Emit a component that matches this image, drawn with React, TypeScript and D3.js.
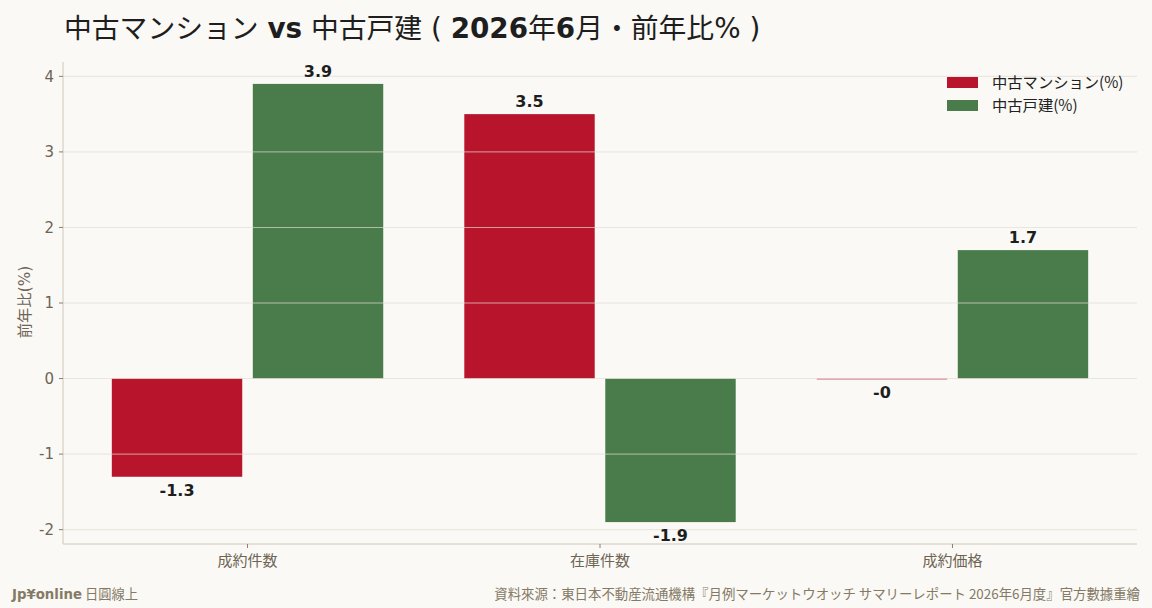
import * as d3 from "d3";

const categories = ["成約件数", "在庫件数", "成約価格"];
const seriesNames = ["中古マンション(%)", "中古戸建(%)"];
const mansionValues = [-1.3, 3.5, -0.01];
const houseValues = [3.9, -1.9, 1.7];
const yTicks = [-2, -1, 0, 1, 2, 3, 4];

const colors = ["#b8142c", "#4a7b4b"];
const W = 1152;
const H = 608;
const margin = { top: 62, right: 15, bottom: 64, left: 63 };
const FONT = "'DejaVu Sans', 'Noto Sans CJK JP', sans-serif";
const CJK = "'Noto Sans CJK JP', 'DejaVu Sans', sans-serif";

function fmt(v: number) {
  const r = Math.round(v * 10) / 10;
  if (Object.is(r, -0)) return "-0";
  return String(r);
}

export default function App() {
  const innerW = W - margin.left - margin.right;
  const innerH = H - margin.top - margin.bottom;
  const barW = 0.37;
  const offs = [-0.2, 0.2];

  const x = d3.scaleLinear().domain([-0.5235, 2.5235]).range([0, innerW]);
  const y = d3.scaleLinear().domain([-2.19, 4.19]).range([innerH, 0]);

  const series = [mansionValues, houseValues];
  const axisColor = "#cfc8ba";
  const tickColor = "#6e6454";

  return (
    <svg width={W} height={H} style={{ display: "block", position: "absolute", left: 0, top: 0, background: "#faf9f5" }}>
      <rect width={W} height={H} fill="#faf9f5" />
      {/* title */}
      <text x={64} y={38} fontSize={27.8} fill="#1e1e1e" fontFamily={FONT}>
        <tspan>中古マンション </tspan>
        <tspan fontWeight="bold">vs</tspan>
        <tspan> 中古戸建 ( </tspan>
        <tspan fontWeight="bold">2026</tspan>
        <tspan>年</tspan>
        <tspan fontWeight="bold">6</tspan>
        <tspan>月・前年比% )</tspan>
      </text>

      <g transform={`translate(${margin.left},${margin.top})`}>
        {/* bars */}
        {series.map((vals, si) =>
          vals.map((v, i) => {
            const x0 = x(i + offs[si] - barW / 2);
            const x1 = x(i + offs[si] + barW / 2);
            const yTop = y(Math.max(0, v));
            const yBot = y(Math.min(0, v));
            return (
              <rect key={`b${si}-${i}`} x={x0} y={yTop} width={x1 - x0} height={Math.max(yBot - yTop, 0.8)} fill={colors[si]} />
            );
          })
        )}
        {/* grid */}
        {yTicks.map((t) => (
          <line key={`g${t}`} x1={0} x2={innerW} y1={y(t)} y2={y(t)} stroke="#e2ddd2" strokeWidth={0.8} opacity={0.9} />
        ))}
        {/* value labels */}
        {series.map((vals, si) =>
          vals.map((v, i) => {
            const cx = x(i + offs[si]);
            const pos = v > 0;
            return (
              <text
                key={`l${si}-${i}`}
                x={cx}
                y={pos ? y(v) - 7 : y(Math.min(v, 0)) + 19}
                textAnchor="middle"
                fontSize={16}
                fontWeight="bold"
                fill="#1e1e1e"
                fontFamily={FONT}
              >
                {fmt(v)}
              </text>
            );
          })
        )}
        {/* axes */}
        <line x1={0} x2={0} y1={0} y2={innerH} stroke={axisColor} strokeWidth={1} />
        <line x1={0} x2={innerW} y1={innerH} y2={innerH} stroke={axisColor} strokeWidth={1} />
        {yTicks.map((t) => (
          <g key={`t${t}`} transform={`translate(0,${y(t)})`}>
            <line x1={-4} x2={0} stroke="#8a7f6c" />
            <text x={-9} dy="0.35em" textAnchor="end" fontSize={15} fill={tickColor} fontFamily={FONT}>
              {t}
            </text>
          </g>
        ))}
        {categories.map((c, i) => (
          <g key={c} transform={`translate(${x(i)},${innerH})`}>
            <line y1={0} y2={4} stroke="#8a7f6c" />
            <text y={22} textAnchor="middle" fontSize={15} fill={tickColor} fontFamily={CJK}>
              {c}
            </text>
          </g>
        ))}
        <text
          transform={`translate(${-33},${innerH / 2 - 1}) rotate(-90)`}
          textAnchor="middle"
          fontSize={15.3}
          fill={tickColor}
          fontFamily={FONT}
        >
          前年比(%)
        </text>
      </g>

      {/* legend */}
      {seriesNames.map((n, i) => (
        <g key={n} transform={`translate(947,${77 + i * 23})`}>
          <rect width={31} height={11} fill={colors[i]} />
          <text x={45} y={11} fontSize={15.3} fill="#222" fontFamily={CJK}>
            {n}
          </text>
        </g>
      ))}

      {/* footer */}
      <text x={12} y={599} fontSize={13.3} fill="#857a66" fontFamily={FONT}>
        <tspan fontWeight="bold">Jp¥online</tspan>
        <tspan fontFamily={CJK}> 日圓線上</tspan>
      </text>
      <text x={1140} y={599} textAnchor="end" fontSize={13.4} fill="#857a66" fontFamily={CJK}>
        資料來源：東日本不動産流通機構『月例マーケットウオッチ サマリーレポート 2026年6月度』官方數據重繪
      </text>
    </svg>
  );
}
